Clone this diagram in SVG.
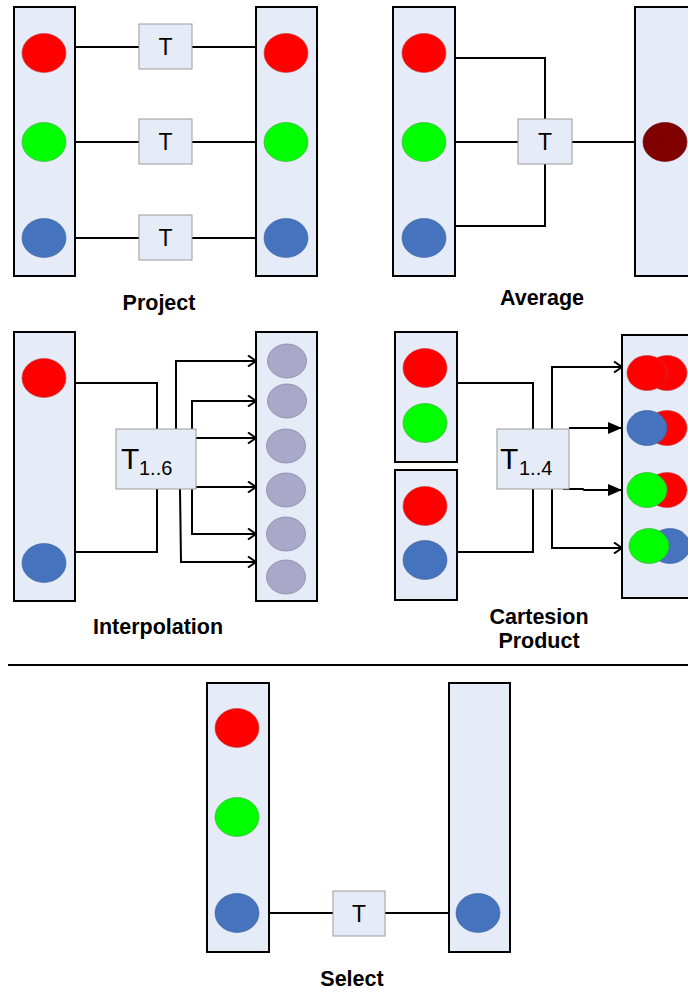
<svg xmlns="http://www.w3.org/2000/svg" width="688" height="993" viewBox="0 0 688 993">
  <style>
    .col { fill: #E6ECF7; stroke: #000; stroke-width: 2; }
    .tbox { fill: #E6ECF7; stroke: #9A9A9A; stroke-width: 1; }
    .red { fill: #FF0000; stroke: #C04040; stroke-width: 0.6; }
    .green { fill: #00FF00; stroke: #40A040; stroke-width: 0.6; }
    .blue { fill: #4673BE; stroke: #3A5E9A; stroke-width: 0.6; }
    .dark { fill: #800000; stroke: #600000; stroke-width: 0.6; }
    .lav { fill: #AAA8C8; stroke: #8A88A8; stroke-width: 0.8; }
    .wire { fill: none; stroke: #000; stroke-width: 2; }
    .tl { font-family: "Liberation Sans", Arial, sans-serif; font-size: 23px; fill: #000; text-anchor: middle; }
    .tbig { font-family: "Liberation Sans", Arial, sans-serif; font-size: 30px; fill: #000; }
    .sub { font-family: "Liberation Sans", Arial, sans-serif; font-size: 20px; fill: #000; }
    .cap { font-family: "Liberation Sans", Arial, sans-serif; font-size: 21.5px; font-weight: bold; fill: #000; text-anchor: middle; }
  </style>
  <defs>
    <marker id="open" viewBox="0 0 10 12" refX="9" refY="6" markerWidth="10" markerHeight="12" markerUnits="userSpaceOnUse" orient="auto">
      <path d="M1,0.5 L9,6 L1,11.5" fill="none" stroke="#000" stroke-width="2"/>
    </marker>
    <marker id="solid" viewBox="0 0 14 12" refX="14" refY="6" markerWidth="14" markerHeight="12" markerUnits="userSpaceOnUse" orient="auto">
      <path d="M0,0 L14,6 L0,12 Z" fill="#000"/>
    </marker>
  </defs>

  <!-- connectors -->
  <g id="connectors">
    <!-- project -->
    <path class="wire" d="M75,47 H139 M192,47 H256"/>
    <path class="wire" d="M75,142 H139 M192,142 H256"/>
    <path class="wire" d="M75,238 H139 M192,238 H256"/>
    <!-- average -->
    <path class="wire" d="M455,58 H545 V119 M455,142 H518 M455,226 H545 V164 M572,142 H635"/>
    <!-- interpolation -->
    <path class="wire" d="M75,383 H157 V429 M75,552 H157 V489"/>
    <path class="wire" marker-end="url(#open)" d="M176,429 V361 H256"/>
    <path class="wire" marker-end="url(#open)" d="M192,429 V401 H256"/>
    <path class="wire" marker-end="url(#open)" d="M196,438 H256"/>
    <path class="wire" marker-end="url(#open)" d="M196,487 H256"/>
    <path class="wire" marker-end="url(#open)" d="M192,489 V534 H256"/>
    <path class="wire" marker-end="url(#open)" d="M180,489 L181,562 H256"/>
    <!-- cartesian product -->
    <path class="wire" d="M457,383 H533 V429 M457,552 H533 V489"/>
    <path class="wire" marker-end="url(#open)" d="M552,429 V367 H622"/>
    <path class="wire" marker-end="url(#solid)" d="M569,428 H622"/>
    <path class="wire" marker-end="url(#solid)" d="M563,489 H583 L584,490 H622"/>
    <path class="wire" marker-end="url(#open)" d="M552,489 V548 H622"/>
    <!-- select -->
    <path class="wire" d="M269,913 H333 M385,913 H449"/>
    <!-- divider -->
    <line x1="8" y1="665" x2="688" y2="665" stroke="#000" stroke-width="2"/>
  </g>

  <!-- Project -->
  <g id="project-in">
    <rect class="col" x="14" y="7" width="61" height="269"/>
    <ellipse class="red" cx="44" cy="53" rx="22" ry="19.5"/>
    <ellipse class="green" cx="44" cy="142" rx="22" ry="19.5"/>
    <ellipse class="blue" cx="44" cy="238" rx="22" ry="19.5"/>
  </g>
  <g id="project-out">
    <rect class="col" x="256" y="7" width="61" height="269"/>
    <ellipse class="red" cx="286" cy="53" rx="22" ry="19.5"/>
    <ellipse class="green" cx="286" cy="142" rx="22" ry="19.5"/>
    <ellipse class="blue" cx="286" cy="238" rx="22" ry="19.5"/>
  </g>
  <g id="project-t1"><rect class="tbox" x="139" y="24" width="53" height="45"/><text class="tl" x="165.5" y="55">T</text></g>
  <g id="project-t2"><rect class="tbox" x="139" y="119" width="53" height="45"/><text class="tl" x="165.5" y="150">T</text></g>
  <g id="project-t3"><rect class="tbox" x="139" y="215" width="53" height="45"/><text class="tl" x="165.5" y="246">T</text></g>
  <text class="cap" x="159" y="310">Project</text>

  <!-- Average -->
  <g id="average-in">
    <rect class="col" x="393" y="7" width="62" height="269"/>
    <ellipse class="red" cx="424" cy="53" rx="22" ry="19.5"/>
    <ellipse class="green" cx="424" cy="142" rx="22" ry="19.5"/>
    <ellipse class="blue" cx="424" cy="238" rx="22" ry="19.5"/>
  </g>
  <g id="average-out">
    <rect class="col" x="635" y="7" width="70" height="269"/>
    <ellipse class="dark" cx="665" cy="142" rx="22" ry="19.5"/>
  </g>
  <g id="average-t"><rect class="tbox" x="518" y="119" width="54" height="45"/><text class="tl" x="545" y="150">T</text></g>
  <text class="cap" x="542" y="305">Average</text>

  <!-- Interpolation -->
  <g id="interp-in">
    <rect class="col" x="14" y="332" width="61" height="269"/>
    <ellipse class="red" cx="44" cy="378" rx="22" ry="19.5"/>
    <ellipse class="blue" cx="44" cy="563" rx="22" ry="19.5"/>
  </g>
  <g id="interp-out">
    <rect class="col" x="256" y="332" width="61" height="269"/>
    <ellipse class="lav" cx="287" cy="361" rx="19.5" ry="17"/>
    <ellipse class="lav" cx="287" cy="401" rx="19.5" ry="17"/>
    <ellipse class="lav" cx="286" cy="446" rx="19.5" ry="17"/>
    <ellipse class="lav" cx="286" cy="490" rx="19.5" ry="17"/>
    <ellipse class="lav" cx="286" cy="534" rx="19.5" ry="17"/>
    <ellipse class="lav" cx="286" cy="577" rx="19.5" ry="17"/>
  </g>
  <g id="interp-t">
    <rect class="tbox" x="116" y="429" width="80" height="60"/>
    <text class="tbig" x="121" y="469">T</text>
    <text class="sub" x="139" y="475">1..6</text>
  </g>
  <text class="cap" x="158" y="634">Interpolation</text>

  <!-- Cartesian product -->
  <g id="cart-in-a">
    <rect class="col" x="395" y="332" width="62" height="130"/>
    <ellipse class="red" cx="425" cy="368" rx="22" ry="19.5"/>
    <ellipse class="green" cx="425" cy="423" rx="22" ry="19.5"/>
  </g>
  <g id="cart-in-b">
    <rect class="col" x="395" y="470" width="62" height="130"/>
    <ellipse class="red" cx="425" cy="506" rx="22" ry="19.5"/>
    <ellipse class="blue" cx="425" cy="560" rx="22" ry="19.5"/>
  </g>
  <g id="cart-out">
    <rect class="col" x="622" y="335" width="80" height="263"/>
    <ellipse class="red" cx="667" cy="373" rx="20" ry="17.5"/>
    <ellipse class="red" cx="647" cy="373" rx="20" ry="17.5"/>
    <ellipse class="red" cx="667" cy="428" rx="20" ry="17.5"/>
    <ellipse class="blue" cx="647" cy="428" rx="20" ry="17.5"/>
    <ellipse class="red" cx="667" cy="490" rx="20" ry="17.5"/>
    <ellipse class="green" cx="647" cy="490" rx="20" ry="17.5"/>
    <ellipse class="blue" cx="670" cy="546" rx="20" ry="17.5"/>
    <ellipse class="green" cx="649" cy="546" rx="20" ry="17.5"/>
  </g>
  <g id="cart-t">
    <rect class="tbox" x="497" y="429" width="72" height="60"/>
    <text class="tbig" x="500" y="469">T</text>
    <text class="sub" x="519" y="475">1..4</text>
  </g>
  <text class="cap" x="539" y="624">Cartesion</text>
  <text class="cap" x="539" y="648">Product</text>

  <!-- Select -->
  <g id="select-in">
    <rect class="col" x="207" y="683" width="62" height="269"/>
    <ellipse class="red" cx="237" cy="728" rx="22" ry="19.5"/>
    <ellipse class="green" cx="237" cy="817" rx="22" ry="19.5"/>
    <ellipse class="blue" cx="237" cy="913" rx="22" ry="19.5"/>
  </g>
  <g id="select-out">
    <rect class="col" x="449" y="683" width="61" height="269"/>
    <ellipse class="blue" cx="478" cy="913" rx="22" ry="19.5"/>
  </g>
  <g id="select-t"><rect class="tbox" x="333" y="891" width="52" height="45"/><text class="tl" x="359" y="922">T</text></g>
  <text class="cap" x="352" y="986">Select</text>
</svg>
